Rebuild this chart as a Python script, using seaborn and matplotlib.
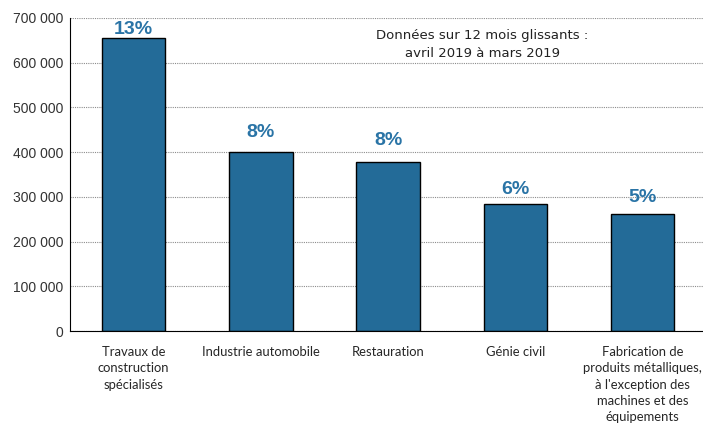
import matplotlib
matplotlib.use("Agg")
import matplotlib.pyplot as plt
import seaborn as sns
import pandas as pd

# Data
categories = [
    "Travaux de\nconstruction\nspécialisés",
    "Industrie automobile",
    "Restauration",
    "Génie civil",
    "Fabrication de\nproduits métalliques,\nà l'exception des\nmachines et des\néquipements",
]
values = [656000, 400000, 378000, 284000, 261000]
shares = ["13%", "8%", "8%", "6%", "5%"]
label_pad = [0, 8, 9, 4, 6]  # offsets in points above the bars
yticks = [0, 100000, 200000, 300000, 400000, 500000, 600000, 700000]

df = pd.DataFrame({"secteur": categories, "valeur": values})

sns.set_style("white")
plt.rcParams["font.family"] = ["Liberation Sans", "DejaVu Sans"]

fig = plt.figure(figsize=(7.03, 4.26), dpi=100)
ax = fig.add_axes([0.0996, 0.223, 0.905, 0.735])

sns.barplot(data=df, x="secteur", y="valeur", color="#236b98", width=0.5,
            edgecolor="black", linewidth=1, saturation=1, ax=ax)

ax.set_ylim(0, 700000)
ax.set_xlim(-0.5, len(categories) - 0.5)
ax.set_yticks(yticks)
ax.set_yticklabels([f"{v:,}".replace(",", " ") for v in yticks],
                   fontsize=10, color="#333333")
ax.set_xticks([i - 0.5 for i in range(len(categories))] + [len(categories) - 0.5], minor=True)
ax.tick_params(axis="x", which="major", length=0, pad=11)
ax.tick_params(axis="x", which="minor", length=5, width=1, direction="out")
ax.tick_params(axis="y", length=3, width=1, direction="out", pad=2)
ax.set_xticklabels(categories, fontsize=9.4, family=["Lato", "DejaVu Sans"], linespacing=1.42)
ax.set_xlabel("")
ax.set_ylabel("")

ax.yaxis.grid(True, linestyle=(0, (1, 1)), color="#8c8c8c", linewidth=0.8)
ax.set_axisbelow(True)
for side in ["top", "right"]:
    ax.spines[side].set_visible(False)
ax.spines["left"].set_color("black")
ax.spines["bottom"].set_color("black")

for i, (v, s, p) in enumerate(zip(values, shares, label_pad)):
    ax.annotate(s, (i, v), xytext=(0, p), textcoords="offset points",
                ha="center", va="bottom", fontsize=14, fontweight="bold",
                color="#2a74a6")

ax.text(0.648, 0.965, "Données sur 12 mois glissants :\navril 2019 à mars 2019",
        transform=ax.transAxes, ha="center", va="top", fontsize=9.5,
        family=["DejaVu Sans"], color="#222222", linespacing=1.5)

fig.savefig("out.png", dpi=100)
